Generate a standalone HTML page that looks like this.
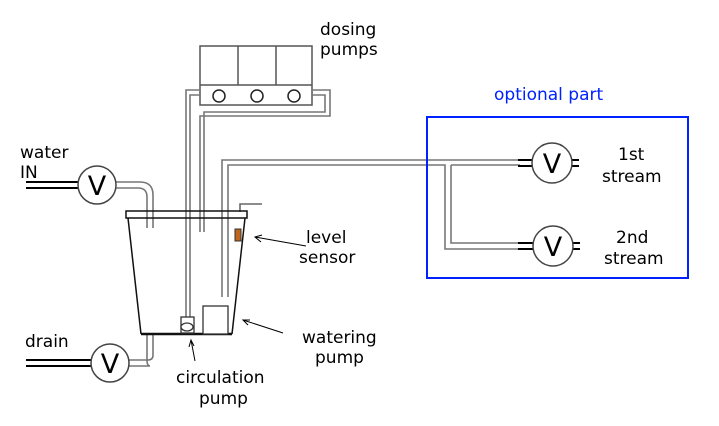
<!DOCTYPE html>
<html><head><meta charset="utf-8"><style>
html,body{margin:0;padding:0;background:#fff;}
svg{display:block;}
text{font-family:"DejaVu Sans","Liberation Sans",sans-serif;font-size:17px;fill:#000;}
</style></head><body>
<svg width="719" height="426" viewBox="0 0 719 426">
<g fill="none" stroke="#555" stroke-width="1.5">
  <rect x="200" y="46" width="112" height="59"/>
  <line x1="200" y1="85" x2="312" y2="85"/>
  <line x1="238" y1="46" x2="238" y2="85"/>
  <line x1="276" y1="46" x2="276" y2="85"/>
  <circle cx="219" cy="96" r="6" stroke="#222"/>
  <circle cx="257" cy="96" r="6" stroke="#222"/>
  <circle cx="294" cy="96" r="6" stroke="#222"/>
</g>
<g fill="none" stroke="#777" stroke-width="1.6">
  <polyline points="200,90 186,90 186,318"/>
  <polyline points="200,95 190,95 190,318"/>
  <polyline points="312,90 330,90 330,116 200,116 200,232"/>
  <polyline points="312,95 325,95 325,112 204,112 204,232"/>
  <polyline points="222,297 222,160 530,160"/>
  <polyline points="228,297 228,165 445,165 445,249 520,249"/>
  <polyline points="451,165 520,165"/>
  <polyline points="451,165 451,243 520,243"/>
  <path d="M116,182 H140 Q153,182 153,195 V228"/>
  <path d="M116,188 H138 Q147,188 147,197 V228"/>
  <path d="M129,360 H148 Q153,360 153,355 V335"/>
  <path d="M129,366 H150 Q147,366 147,360 V335"/>
  <polyline points="240,212 240,204 262,204" stroke="#666"/>
</g>
<g stroke="#000" stroke-width="2">
  <line x1="26" y1="182" x2="78" y2="182"/><line x1="26" y1="188" x2="78" y2="188"/>
  <line x1="26" y1="360" x2="91" y2="360"/><line x1="26" y1="366" x2="91" y2="366"/>
  <line x1="518" y1="160" x2="532" y2="160"/><line x1="518" y1="166" x2="532" y2="166"/>
  <line x1="572" y1="160" x2="579" y2="160"/><line x1="572" y1="166" x2="579" y2="166"/>
  <line x1="518" y1="243" x2="533" y2="243"/><line x1="518" y1="249" x2="533" y2="249"/>
  <line x1="573" y1="243" x2="580" y2="243"/><line x1="573" y1="249" x2="580" y2="249"/>
</g>
<g fill="#fff" stroke="#444" stroke-width="1.5">
  <circle cx="97" cy="185" r="19"/>
  <circle cx="110" cy="363" r="19"/>
  <circle cx="552" cy="163" r="20"/>
  <circle cx="553" cy="246" r="20"/>
</g>
<g text-anchor="middle">
  <text x="97" y="195" style="font-size:27px">V</text>
  <text x="110" y="373" style="font-size:27px">V</text>
  <text x="552" y="173" style="font-size:27px">V</text>
  <text x="553" y="256" style="font-size:27px">V</text>
</g>
<g fill="none" stroke="#111" stroke-width="1.5">
  <rect x="126" y="211" width="121" height="7"/>
  <line x1="128" y1="218" x2="141" y2="334"/>
  <line x1="245" y1="218" x2="232" y2="334"/>
  <line x1="141" y1="334" x2="232" y2="334" stroke-width="2.5"/>
</g>
<rect x="235" y="229" width="6" height="12" fill="#c0661a" stroke="#333" stroke-width="1"/>
<g fill="#fff" stroke="#333" stroke-width="1.3">
  <rect x="203" y="306" width="25" height="28"/>
  <rect x="181" y="317" width="13" height="16"/>
  <ellipse cx="187" cy="327" rx="6" ry="4"/>
</g>
<g stroke="#000" stroke-width="1" fill="none">
  <path d="M306,246 L255,237 M262,235 L255,237 L261,242"/>
  <path d="M283,333 L243,320 M250,320 L243,320 L248,325"/>
  <path d="M195,361 L191,340 M189,347 L191,340 L194,346"/>
</g>
<text x="320" y="35">dosing</text>
<text x="320" y="55">pumps</text>
<text x="20" y="158">water</text>
<text x="20" y="178">IN</text>
<text x="25" y="347">drain</text>
<text x="306" y="243">level</text>
<text x="299" y="263">sensor</text>
<text x="302" y="343">watering</text>
<text x="315" y="363">pump</text>
<text x="176" y="383">circulation</text>
<text x="199" y="404">pump</text>
<text x="494" y="100" style="fill:#0022ff">optional part</text>
<rect x="427" y="117" width="261" height="161" fill="none" stroke="#0022ff" stroke-width="2"/>
<text x="618" y="160">1st</text>
<text x="602" y="182">stream</text>
<text x="616" y="243">2nd</text>
<text x="604" y="264">stream</text>
</svg>
</body></html>
